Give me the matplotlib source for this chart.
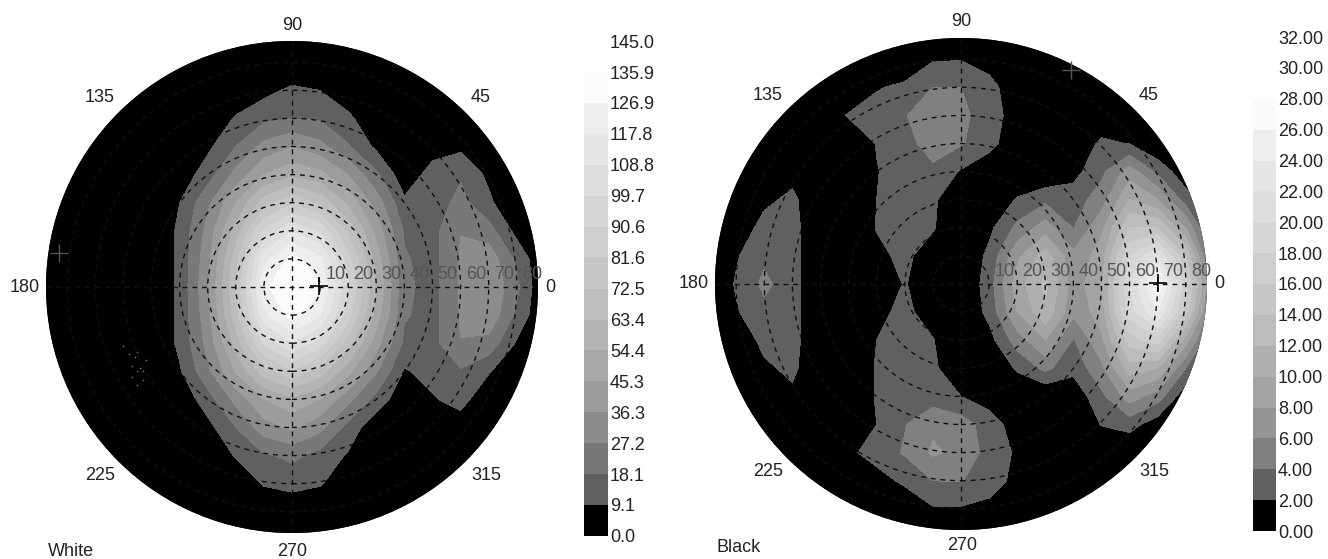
import numpy as np
import matplotlib
matplotlib.use('Agg')
import matplotlib.pyplot as plt
from matplotlib.patches import Circle

plt.rcParams['font.family'] = ['Liberation Sans', 'DejaVu Sans']

W, H = 1328, 559

# grid of the readings, in degrees off the centre
grid_x = [-90, -80, -70, -60, -50, -40, -30, -20, -10, 0, 10, 20, 30, 40, 50, 60, 70, 80, 90]
grid_y = [90, 80, 70, 60, 50, 40, 30, 20, 10, 0, -10, -20, -30, -40, -50, -60, -70, -80, -90]

white_values = [
    [0, 0, 0, 0, 0, 0, 0, 0, 0, 0, 0, 0, 0, 0, 0, 0, 0, 0, 0],
    [0, 0, 0, 0, 0, 0, 0, 0, 0, 0, 0, 0, 0, 0, 0, 0, 0, 0, 0],
    [0, 0, 0, 0, 0, 0, 0, 2, 6, 11, 9, 3, 0, 0, 0, 0, 0, 0, 0],
    [0, 0, 0, 0, 0, 0, 2, 10, 16, 18, 17, 11, 2, 0, 0, 0, 0, 0, 0],
    [0, 0, 0, 0, 0, 0, 7, 18, 30, 36, 30, 19, 7, 0, 5, 7, 0, 0, 0],
    [0, 0, 0, 0, 0, 3, 14, 30, 45, 52, 48, 36, 20, 3, 13, 17, 7, 0, 0],
    [0, 0, 0, 0, 0, 9, 25, 45, 68, 80, 70, 52, 32, 11, 13, 21, 11, 0, 0],
    [0, 0, 0, 0, 0, 11, 30, 58, 92, 108, 98, 70, 42, 17, 15, 27, 22, 6, 0],
    [0, 0, 0, 0, 0, 11, 33, 68, 115, 130, 120, 85, 50, 19, 15, 28, 33, 16, 0],
    [0, 0, 0, 0, 0, 11, 35, 72, 125, 135, 128, 92, 55, 20, 15, 28, 36, 20, 0],
    [0, 0, 0, 0, 0, 11, 33, 68, 115, 131, 118, 85, 50, 19, 15, 28, 34, 16, 0],
    [0, 0, 0, 0, 0, 11, 30, 58, 92, 108, 95, 68, 40, 16, 15, 27, 24, 8, 0],
    [0, 0, 0, 0, 0, 8, 25, 46, 68, 80, 68, 48, 28, 8, 13, 17, 10, 1, 0],
    [0, 0, 0, 0, 0, 2, 14, 30, 45, 52, 45, 30, 15, 2, 8, 13, 1, 0, 0],
    [0, 0, 0, 0, 0, 0, 6, 18, 32, 38, 30, 15, 2, 0, 0, 3, 0, 0, 0],
    [0, 0, 0, 0, 0, 0, 0, 10, 17, 20, 15, 8, 0, 0, 0, 0, 0, 0, 0],
    [0, 0, 0, 0, 0, 0, 0, 2, 10, 13, 10, 2, 0, 0, 0, 0, 0, 0, 0],
    [0, 0, 0, 0, 0, 0, 0, 0, 0, 0, 0, 0, 0, 0, 0, 0, 0, 0, 0],
    [0, 0, 0, 0, 0, 0, 0, 0, 0, 0, 0, 0, 0, 0, 0, 0, 0, 0, 0],
]

black_values = [
    [0, 0, 0, 0, 0, 0, 0, 0, 0, 0, 0, 0, 0, 0, 0, 0, 0, 0, 0],
    [0, 0, 0, 0, 0, 0, 0, 0, 1.8, 1.9, 1, 0, 0, 0, 0, 0, 0, 0, 0],
    [0, 0, 0, 0, 0, 0, 1.8, 2.5, 4, 4, 2.8, 0.5, 0, 0, 0, 0, 0, 0, 0],
    [0, 0, 0, 0, 0.5, 2.2, 3, 3.9, 5, 4.5, 3, 1, 0, 0, 0, 0, 0, 0, 0],
    [0, 0, 0, 0, 0, 0, 2.1, 3.2, 5, 4.2, 2.7, 0.5, 0, 0, 2.5, 1.9, 0, 0, 0],
    [0, 0, 0, 1.2, 0, 0, 1.9, 3, 3.5, 1.8, 0.5, 0, 0, 1.3, 3.5, 7, 3.5, 0.5, 0],
    [0, 0, 1.5, 2.5, 0, 0, 2, 3, 2.4, 0, 0, 2.2, 3.5, 3, 5, 10, 8, 3, 0],
    [0, 0.5, 2.8, 2.8, 0, 0, 2.1, 2.9, 2.2, 0, 1.5, 4.5, 7, 3.9, 7.5, 14, 14, 8, 0],
    [0, 1.8, 3.5, 2.8, 0, 0, 1.5, 2.5, 0.8, 0, 2.5, 7.5, 11, 6.5, 9, 18, 22, 14, 1],
    [0, 2.2, 4.5, 2.8, 0, 0, 0, 2.2, 0, 0, 3, 9, 12.5, 7, 9.5, 20, 27.5, 17, 5],
    [0, 1.8, 3.4, 2.8, 0, 0, 1.5, 2.5, 1, 0, 2.6, 8, 11.5, 6.5, 9, 19, 24, 15, 3],
    [0, 0.5, 2.6, 2.8, 0, 0, 2, 3, 2.1, 0, 1.2, 5, 8, 3.8, 7.5, 15, 17, 9, 1],
    [0, 0, 1.6, 2.5, 0, 0, 2.2, 3, 2.5, 0, 0, 2.3, 4.5, 2.6, 5.5, 11, 10, 4, 0],
    [0, 0, 0, 1.5, 0, 0, 2.2, 3, 3, 2, 1, 0, 0, 0.5, 3.5, 7, 5, 0.5, 0],
    [0, 0, 0, 0, 0, 0, 2, 3.9, 5.6, 5, 3, 1, 0, 0, 2.1, 2.8, 0.8, 0, 0],
    [0, 0, 0, 0, 0, 1.5, 3, 4.2, 6.3, 5.5, 3.2, 1.7, 0, 0, 0, 0, 0, 0, 0],
    [0, 0, 0, 0, 0, 0, 1, 2.5, 4, 4.1, 2.8, 1.5, 0, 0, 0, 0, 0, 0, 0],
    [0, 0, 0, 0, 0, 0, 0, 0, 1.8, 1.8, 1.5, 0, 0, 0, 0, 0, 0, 0, 0],
    [0, 0, 0, 0, 0, 0, 0, 0, 0, 0, 0, 0, 0, 0, 0, 0, 0, 0, 0],
]

# colour bar bands
white_levels = [0.0, 9.1, 18.1, 27.2, 36.3, 45.3, 54.4, 63.4, 72.5, 81.6, 90.6, 99.7, 108.8, 117.8, 126.9, 135.9, 145.0]
white_labels = ['0.0', '9.1', '18.1', '27.2', '36.3', '45.3', '54.4', '63.4', '72.5', '81.6', '90.6', '99.7',
                '108.8', '117.8', '126.9', '135.9', '145.0']
black_levels = [0, 2, 4, 6, 8, 10, 12, 14, 16, 18, 20, 22, 24, 26, 28, 30, 32]
black_labels = ['0.00', '2.00', '4.00', '6.00', '8.00', '10.00', '12.00', '14.00', '16.00', '18.00', '20.00',
                '22.00', '24.00', '26.00', '28.00', '30.00', '32.00']
white_grays = ['#000000', '#606060', '#787878', '#8c8c8c', '#9c9c9c', '#a8a8a8', '#b4b4b4', '#bebebe', '#c6c6c6',
               '#cecece', '#d6d6d6', '#dedede', '#e6e6e6', '#eeeeee', '#fbfbfb']
black_grays = ['#000000', '#606060', '#808080', '#949494', '#a4a4a4', '#b0b0b0', '#bcbcbc', '#c6c6c6', '#cecece',
               '#d6d6d6', '#dedede', '#e6e6e6', '#eeeeee', '#fafafa']

rings = [10, 20, 30, 40, 50, 60, 70, 80]
ring_labels = ['10', '20', '30', '40', '50', '60', '70', '80']
spokes = ['0', '45', '90', '135', '180', '225', '270', '315']

# faint scatter in the black part of the White panel
speck_x = [-60, -58, -57, -56, -55, -55, -54, -53, -52, -57, -55, -53]
speck_y = [-21, -24, -28, -25, -23, -30, -29, -33, -26, -32, -35, -30]


def px_text(x, y, s, ha='center', va='center', color='#222222'):
    plt.figtext(x / W, 1 - y / H, s, ha=ha, va=va, fontsize=13, color=color)


def draw_disc(cx, cy, values, levels, grays, label_pos, name, name_pos, min_cross, max_cross):
    R = 246
    top = R / 2.81
    ax = plt.axes([(cx - R) / W, 1 - (cy + R) / H, 2 * R / W, 2 * R / H])
    ax.set_xlim(-top, top)
    ax.set_ylim(-top, top)
    ax.axis('off')

    disc = Circle((0, 0), top, transform=ax.transData, facecolor='black', edgecolor='none')
    ax.add_patch(disc)
    cs = ax.contourf(grid_x, grid_y, values, levels=levels[:len(grays) + 1], colors=grays, extend='neither')
    cs.set_clip_path(disc)

    for r in rings:
        ax.add_patch(Circle((0, 0), r, fill=False, ec='#101010', lw=1, ls=(0, (3.5, 3.5))))
    ax.plot([-top, top], [0, 0], color='#101010', lw=1, ls=(0, (3.5, 3.5)))
    ax.plot([0, 0], [-top, top], color='#101010', lw=1, ls=(0, (3.5, 3.5)))

    for r, s in zip(rings, ring_labels):
        ax.text(r + 1.8, 1.5, s, ha='left', va='bottom', fontsize=13, color='#555555', clip_on=False)

    ax.plot(min_cross[0], min_cross[1], '+', color='#555555', ms=13, mew=1)
    ax.plot(max_cross[0], max_cross[1], '+', color='black', ms=13, mew=1.2)

    for s, pos in zip(spokes, label_pos):
        px_text(pos[0], pos[1], s)
    px_text(name_pos[0], name_pos[1], name)
    return ax


def draw_bar(x0, x1, y_bottom, y_top, levels, labels, grays):
    ax = plt.axes([x0 / W, 1 - y_bottom / H, (x1 - x0) / W, (y_bottom - y_top) / H])
    ax.set_xlim(0, 1)
    ax.set_ylim(levels[0], levels[-1])
    for i, g in enumerate(grays):
        ax.bar(0.5, levels[i + 1] - levels[i], bottom=levels[i], width=1, color=g)
    for side in ['top', 'bottom', 'left', 'right']:
        ax.spines[side].set_visible(False)
    ax.set_xticks([])
    ax.yaxis.tick_right()
    ax.set_yticks(levels)
    ax.set_yticklabels(labels, fontsize=13, color='#222222')
    ax.tick_params(axis='y', length=0, pad=1.5)


fig = plt.figure(figsize=(W / 100, H / 100), dpi=100)

left_ax = draw_disc(292, 287, white_values, white_levels, white_grays,
                    [(550, 287), (481, 97), (292, 25), (100, 97), (25, 287), (100, 476), (292, 551), (486, 476)],
                    'White', (71, 551), (-83, 12), (9.5, 0.5))
left_ax.scatter(speck_x, speck_y, s=1.5, color='#707070', linewidths=0)

draw_disc(961, 284, black_values, black_levels, black_grays,
          [(1219, 284), (1149, 95), (961, 21), (768, 95), (694, 284), (768, 472), (962, 546), (1154, 472)],
          'Black', (739, 547), (39, 76), (70, 0.5))

draw_bar(584, 608, 536, 41, white_levels, white_labels, white_grays)
draw_bar(1253, 1276, 531, 37, black_levels, black_labels, black_grays)

fig.savefig('out.png', dpi=100)
